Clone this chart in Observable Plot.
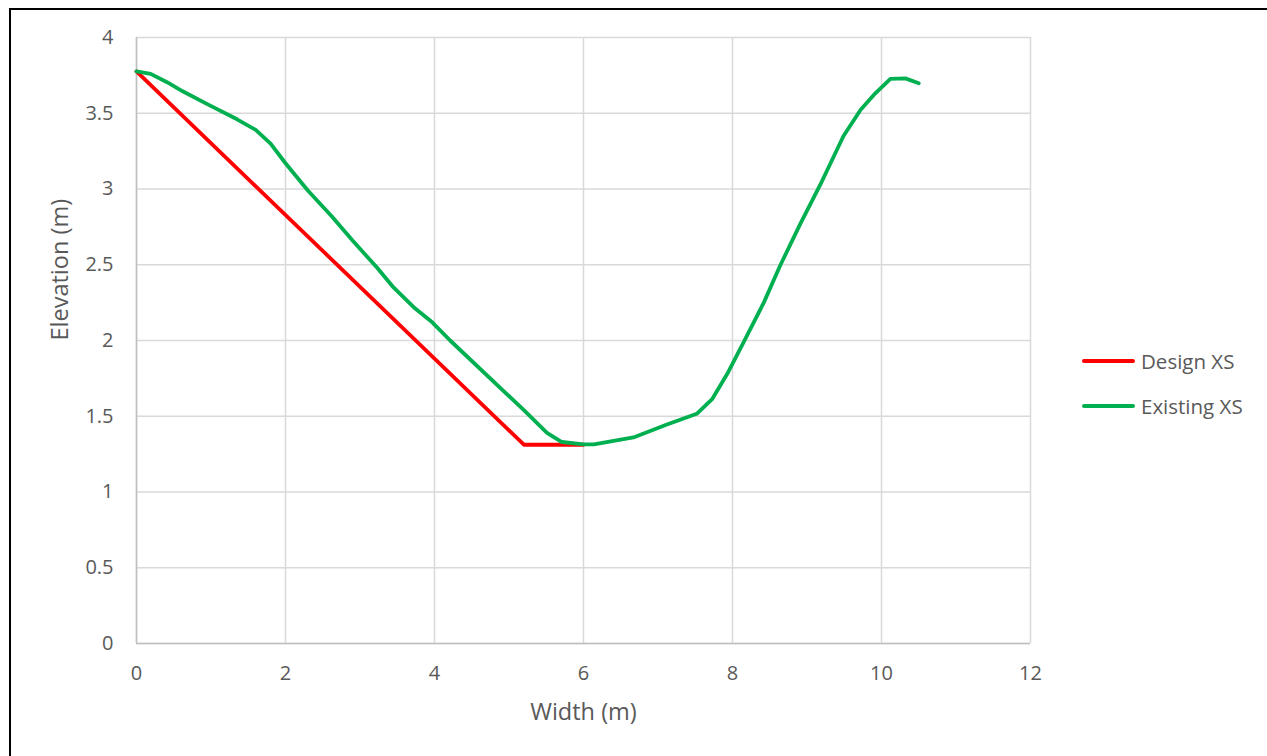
<!DOCTYPE html>
<html>
<head>
<meta charset="utf-8">
<script src="https://cdn.jsdelivr.net/npm/d3@7"></script>
<script src="https://cdn.jsdelivr.net/npm/@observablehq/plot@0.6"></script>
<style>
  html, body { margin: 0; padding: 0; background: #fff; }
  #wrap { position: relative; width: 1267px; height: 756px; overflow: hidden; font-family: "Open Sans", sans-serif; }
  #frame { position: absolute; left: 9px; top: 8px; width: 1300px; height: 800px; border-left: 2px solid #000; border-top: 2px solid #000; box-sizing: border-box; }
  #chart { position: absolute; left: 0; top: 0; }
  .legend { position: absolute; left: 1082px; color: #595959; font-size: 20.5px; display: flex; align-items: center; }
  .legend .sw { width: 53px; height: 4px; border-radius: 2px; margin-right: 6px; }
</style>
</head>
<body>
<div id="wrap">
  <div id="frame"></div>
  <div id="chart"></div>
  <div class="legend" style="top:347px"><span class="sw" style="background:#ff0000"></span>Design XS</div>
  <div class="legend" style="top:392px"><span class="sw" style="background:#00b050"></span>Existing XS</div>
</div>
<script>
const xTicks = [0, 2, 4, 6, 8, 10, 12];
const yTicks = [0, 0.5, 1, 1.5, 2, 2.5, 3, 3.5, 4];

const designWidth = [0, 5.2, 6.0];
const designElev  = [3.776, 1.312, 1.312];

const existingWidth = [0, 0.19, 0.41, 0.62, 0.95, 1.35, 1.6, 1.8, 2.0, 2.3, 2.62, 2.9, 3.23, 3.45, 3.72, 3.97, 4.21, 5.2, 5.51, 5.71, 6.0, 6.14, 6.67, 7.12, 7.52, 7.73, 7.93, 8.15, 8.42, 8.64, 8.91, 9.18, 9.49, 9.72, 9.92, 10.12, 10.32, 10.5];
const existingElev  = [3.776, 3.76, 3.705, 3.645, 3.56, 3.46, 3.39, 3.30, 3.17, 2.99, 2.82, 2.66, 2.48, 2.35, 2.22, 2.12, 2.0, 1.54, 1.39, 1.33, 1.315, 1.315, 1.36, 1.445, 1.516, 1.615, 1.78, 1.99, 2.25, 2.495, 2.77, 3.03, 3.35, 3.523, 3.633, 3.727, 3.73, 3.698];

const design = designWidth.map((w, i) => ({w, e: designElev[i]}));
const existing = existingWidth.map((w, i) => ({w, e: existingElev[i]}));

const font = "Open Sans, sans-serif";
const grey = "#595959";

const chart = Plot.plot({
  width: 1267,
  height: 756,
  marginLeft: 136,
  marginRight: 237,
  marginTop: 37,
  marginBottom: 113,
  style: {fontFamily: font, background: "transparent"},
  x: {domain: [0, 12]},
  y: {domain: [0, 4]},
  marks: [
    Plot.gridX(xTicks, {stroke: "#d9d9d9", strokeOpacity: 1, strokeWidth: 1.5}),
    Plot.gridY(yTicks, {stroke: "#d9d9d9", strokeOpacity: 1, strokeWidth: 1.5}),
    Plot.ruleX([0], {stroke: "#bfbfbf", strokeWidth: 1.5}),
    Plot.ruleY([0], {stroke: "#bfbfbf", strokeWidth: 1.5}),
    Plot.axisX(xTicks, {tickSize: 0, tickPadding: 22, fontSize: 20, fill: grey, label: null, tickFormat: d => String(d)}),
    Plot.axisY(yTicks, {tickSize: 0, tickPadding: 23, fontSize: 20, fill: grey, label: null, tickFormat: d => String(d)}),
    Plot.text(["Width (m)"], {frameAnchor: "bottom", dy: 76, fontSize: 23.5, fill: grey}),
    Plot.text(["Elevation (m)"], {frameAnchor: "left", dx: -76, rotate: -90, fontSize: 23.5, fill: grey}),
    Plot.line(design, {x: "w", y: "e", stroke: "#ff0000", strokeWidth: 3.8}),
    Plot.line(existing, {x: "w", y: "e", stroke: "#00b050", strokeWidth: 3.8})
  ]
});
document.getElementById("chart").appendChild(chart);
</script>
</body>
</html>
